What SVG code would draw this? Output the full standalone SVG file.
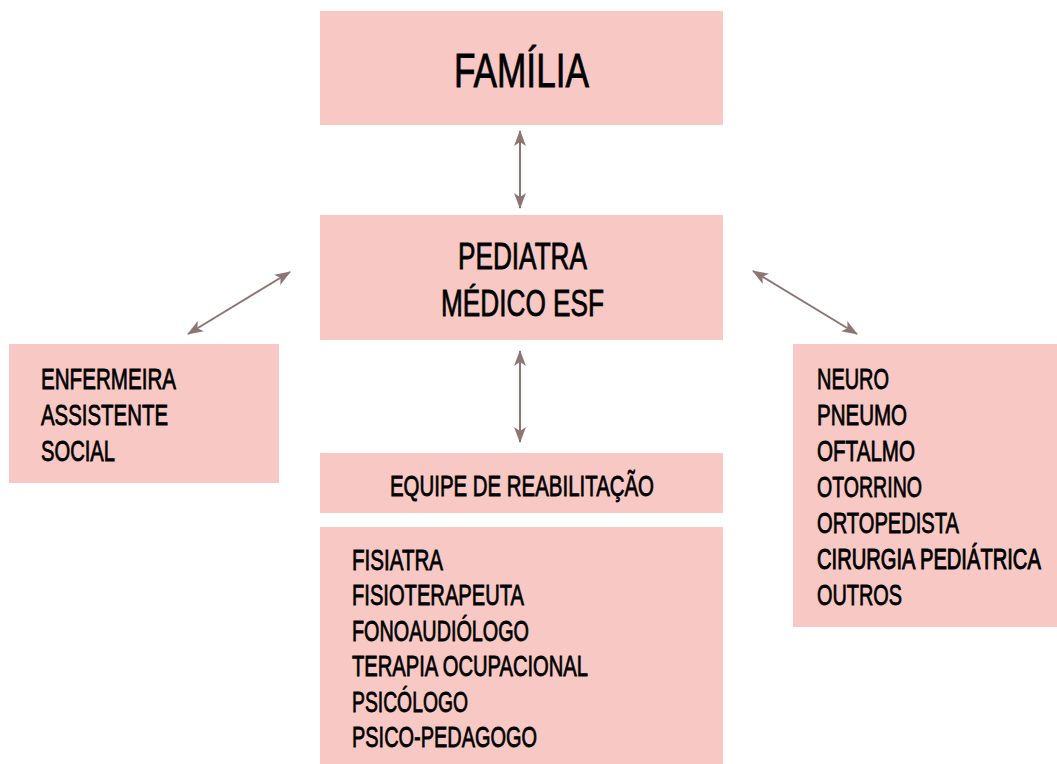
<svg xmlns="http://www.w3.org/2000/svg" width="1057" height="764" viewBox="0 0 1057 764">
<style>
.box{fill:#f8c8c4;}
.t{font-family:"Liberation Sans Narrow","Liberation Sans",Arial,sans-serif;fill:#000;stroke:#000;stroke-width:0.8px;}
.s{font-size:29.5px;}
.conn{stroke:#8c7572;stroke-width:2;fill:none;marker-start:url(#ah);marker-end:url(#ah);}
</style>
<defs>
<marker id="ah" viewBox="0 0 16 12" refX="15" refY="6" markerWidth="16" markerHeight="12" markerUnits="userSpaceOnUse" orient="auto-start-reverse">
<path d="M0,0 L16,6 L0,12 L4,6 Z" fill="#8c7572"/>
</marker>
</defs>
<rect width="1057" height="764" fill="#fff"/>
<g id="familia">
<rect class="box" x="320" y="11" width="403" height="114"/>
<text class="t" x="454" y="87" font-size="49" textLength="135" lengthAdjust="spacingAndGlyphs">FAMÍLIA</text>
</g>
<g id="pediatra">
<rect class="box" x="320" y="215" width="403" height="125"/>
<text class="t" x="458" y="269" font-size="37" textLength="129" lengthAdjust="spacingAndGlyphs">PEDIATRA</text>
<text class="t" x="441" y="316" font-size="37" textLength="163" lengthAdjust="spacingAndGlyphs">MÉDICO ESF</text>
</g>
<g id="enfermeira">
<rect class="box" x="9" y="344" width="270" height="139"/>
<text class="t s" x="41" y="389" textLength="135" lengthAdjust="spacingAndGlyphs">ENFERMEIRA</text>
<text class="t s" x="41" y="425" textLength="127" lengthAdjust="spacingAndGlyphs">ASSISTENTE</text>
<text class="t s" x="41" y="461" textLength="74" lengthAdjust="spacingAndGlyphs">SOCIAL</text>
</g>
<g id="especialistas">
<rect class="box" x="793" y="344" width="264" height="283"/>
<text class="t s" x="817" y="389" textLength="72" lengthAdjust="spacingAndGlyphs">NEURO</text>
<text class="t s" x="817" y="425" textLength="90" lengthAdjust="spacingAndGlyphs">PNEUMO</text>
<text class="t s" x="817" y="461" textLength="98" lengthAdjust="spacingAndGlyphs">OFTALMO</text>
<text class="t s" x="817" y="497" textLength="105" lengthAdjust="spacingAndGlyphs">OTORRINO</text>
<text class="t s" x="817" y="533" textLength="142" lengthAdjust="spacingAndGlyphs">ORTOPEDISTA</text>
<text class="s" x="0" y="0" transform="translate(817,569) scale(0.683,1)" font-family="'Liberation Sans',Arial,sans-serif" fill="#000" stroke="#000" stroke-width="1">CIRURGIA PEDIÁTRICA</text>
<text class="t s" x="817" y="605" textLength="85" lengthAdjust="spacingAndGlyphs">OUTROS</text>
</g>
<g id="equipe">
<rect class="box" x="320" y="453" width="403" height="60"/>
<text class="t s" x="390" y="496" textLength="264" lengthAdjust="spacingAndGlyphs">EQUIPE DE REABILITAÇÃO</text>
</g>
<g id="reabilitacao">
<rect class="box" x="320" y="527" width="403" height="237"/>
<text class="t s" x="352" y="570" textLength="91" lengthAdjust="spacingAndGlyphs">FISIATRA</text>
<text class="t s" x="352" y="605" textLength="172" lengthAdjust="spacingAndGlyphs">FISIOTERAPEUTA</text>
<text class="t s" x="352" y="641" textLength="177" lengthAdjust="spacingAndGlyphs">FONOAUDIÓLOGO</text>
<text class="t s" x="352" y="676" textLength="236" lengthAdjust="spacingAndGlyphs">TERAPIA OCUPACIONAL</text>
<text class="t s" x="352" y="712" textLength="116" lengthAdjust="spacingAndGlyphs">PSICÓLOGO</text>
<text class="t s" x="352" y="747" textLength="185" lengthAdjust="spacingAndGlyphs">PSICO-PEDAGOGO</text>
</g>
<g id="connectors">
<line class="conn" x1="520" y1="131" x2="520" y2="208"/>
<line class="conn" x1="520" y1="351" x2="520" y2="442"/>
<line class="conn" x1="290" y1="272" x2="188" y2="334"/>
<line class="conn" x1="753" y1="271" x2="857" y2="334"/>
</g>
</svg>
